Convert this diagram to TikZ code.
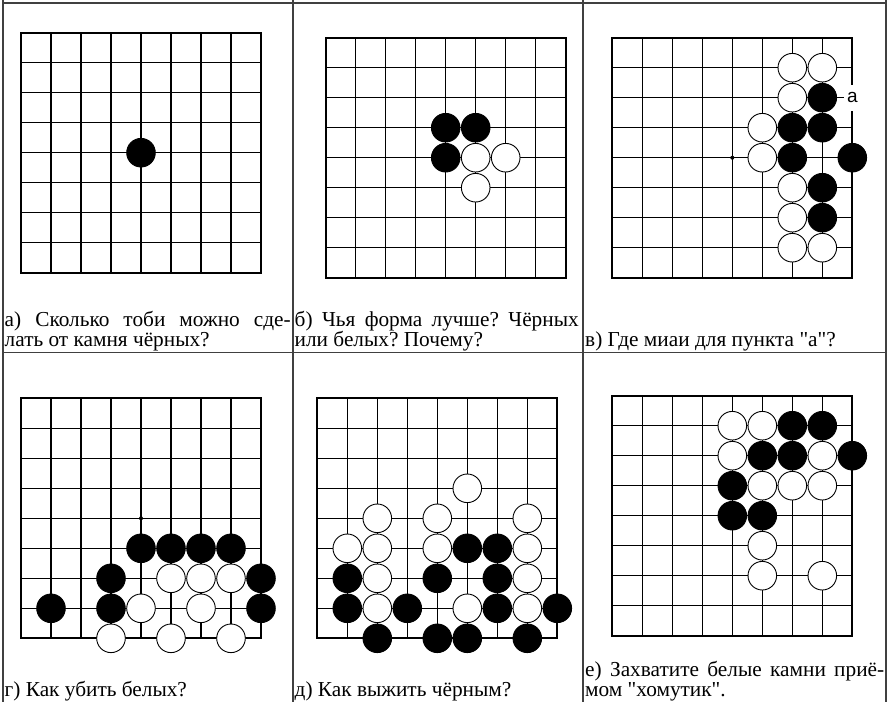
\documentclass[tikz,border=0pt]{standalone}
\usepackage{fontspec}
\newfontfamily\capfont{Liberation Serif}
\newfontfamily\labelfont{Liberation Sans}
\usepackage{tikz}

\tikzset{
    gridline/.style = {line width=1.1pt},
    boardedge/.style = {line width=2pt},
    goboard/.pic = {
        \foreach \i in {1,...,7} {
            \draw[gridline] (\i,0) -- (\i,8);
            \draw[gridline] (0,\i) -- (8,\i);
        }
        \draw[boardedge] (0,0) rectangle (8,8);
        \fill (4,4) circle (2pt);
    }
}

\begin{document}
\begin{tikzpicture}[
    x=1pt, y=-1pt,
    font=\capfont\fontsize{21.3}{20}\selectfont,
    tableline/.style = {line width=1.3pt, color=black!75},
    stone/.style = {
        circle, minimum size=28.6pt, inner sep=0pt, line width=0.9pt
    },
    blackstone/.style = {stone, draw=black, fill=black},
    whitestone/.style = {stone, draw=black, fill=white},
    pointlabel/.style = {
        fill=white, inner xsep=3pt, minimum height=26pt,
        font=\labelfont\fontsize{19}{19}\selectfont
    },
    caption/.style = {anchor=south west, inner sep=0pt, align=justify}
]
\useasboundingbox (0,0) rectangle (891,702);

% ===== TABLE =====
\draw[tableline] (3,0) -- (3,702);
\draw[tableline] (293,0) -- (293,702);
\draw[tableline] (583,0) -- (583,702);
\draw[tableline] (886,0) -- (886,702);
\draw[tableline] (3,3) -- (886,3);
\draw[tableline] (3,352.5) -- (886,352.5);

% ===== BOARD A =====
\begin{scope}[shift={(21,32.7)}, x=30pt, y=-30pt]
    \pic {goboard};
    \node[blackstone] (a-b-4-4) at (4,4) {};
\end{scope}
\node[caption, text width=286pt] (capA) at (4.5,351) {%
    а) Сколько тоби можно сде-\linebreak
    лать от камня чёрных?};

% ===== BOARD B =====
\begin{scope}[shift={(325.7,37.7)}, x=30pt, y=-30pt]
    \pic {goboard};
    \foreach \c/\r in {4/3, 5/3, 4/4}
        \node[blackstone] (b-b-\c-\r) at (\c,\r) {};
    \foreach \c/\r in {5/4, 6/4, 5/5}
        \node[whitestone] (b-w-\c-\r) at (\c,\r) {};
\end{scope}
\node[caption, text width=284pt] (capB) at (294.5,351) {%
    б) Чья форма лучше?\ Чёрных\linebreak
    или белых?\ Почему?};

% ===== BOARD C =====
\begin{scope}[shift={(612.3,37.7)}, x=30pt, y=-30pt]
    \pic {goboard};
    \foreach \c/\r in {7/2, 6/3, 7/3, 6/4, 8/4, 7/5, 7/6}
        \node[blackstone] (c-b-\c-\r) at (\c,\r) {};
    \foreach \c/\r in {6/1, 7/1, 6/2, 5/3, 5/4, 6/5, 6/6, 6/7, 7/7}
        \node[whitestone] (c-w-\c-\r) at (\c,\r) {};
    \node[pointlabel] (c-label) at (8,2) {a};
\end{scope}
\node[caption, text width=299pt] (capC) at (585,351) {%
    в) Где миаи для пункта "а"?};

% ===== BOARD D =====
\begin{scope}[shift={(21,398.3)}, x=30pt, y=-30pt]
    \pic {goboard};
    \foreach \c/\r in {4/5, 5/5, 6/5, 7/5, 3/6, 8/6, 1/7, 3/7, 8/7}
        \node[blackstone] (d-b-\c-\r) at (\c,\r) {};
    \foreach \c/\r in {5/6, 6/6, 7/6, 4/7, 6/7, 3/8, 5/8, 7/8}
        \node[whitestone] (d-w-\c-\r) at (\c,\r) {};
\end{scope}
\node[caption, text width=286pt] (capD) at (4.5,701) {%
    г) Как убить белых?};

% ===== BOARD E =====
\begin{scope}[shift={(317.3,398.3)}, x=30pt, y=-30pt]
    \pic {goboard};
    \foreach \c/\r in {5/5, 6/5, 1/6, 4/6, 6/6, 1/7, 3/7, 6/7, 8/7, 2/8, 4/8, 5/8, 7/8}
        \node[blackstone] (e-b-\c-\r) at (\c,\r) {};
    \foreach \c/\r in {5/3, 2/4, 4/4, 7/4, 1/5, 2/5, 4/5, 7/5, 2/6, 7/6, 2/7, 5/7, 7/7}
        \node[whitestone] (e-w-\c-\r) at (\c,\r) {};
\end{scope}
\node[caption, text width=284pt] (capE) at (294.5,701) {%
    д) Как выжить чёрным?};

% ===== BOARD F =====
\begin{scope}[shift={(612.3,395.7)}, x=30pt, y=-30pt]
    \pic {goboard};
    \foreach \c/\r in {6/1, 7/1, 5/2, 6/2, 8/2, 4/3, 4/4, 5/4}
        \node[blackstone] (f-b-\c-\r) at (\c,\r) {};
    \foreach \c/\r in {4/1, 5/1, 4/2, 7/2, 5/3, 6/3, 7/3, 5/5, 5/6, 7/6}
        \node[whitestone] (f-w-\c-\r) at (\c,\r) {};
\end{scope}
\node[caption, text width=299pt] (capF) at (585,701) {%
    е) Захватите белые камни приё-\linebreak
    мом "хомутик".};
\end{tikzpicture}
\end{document}
